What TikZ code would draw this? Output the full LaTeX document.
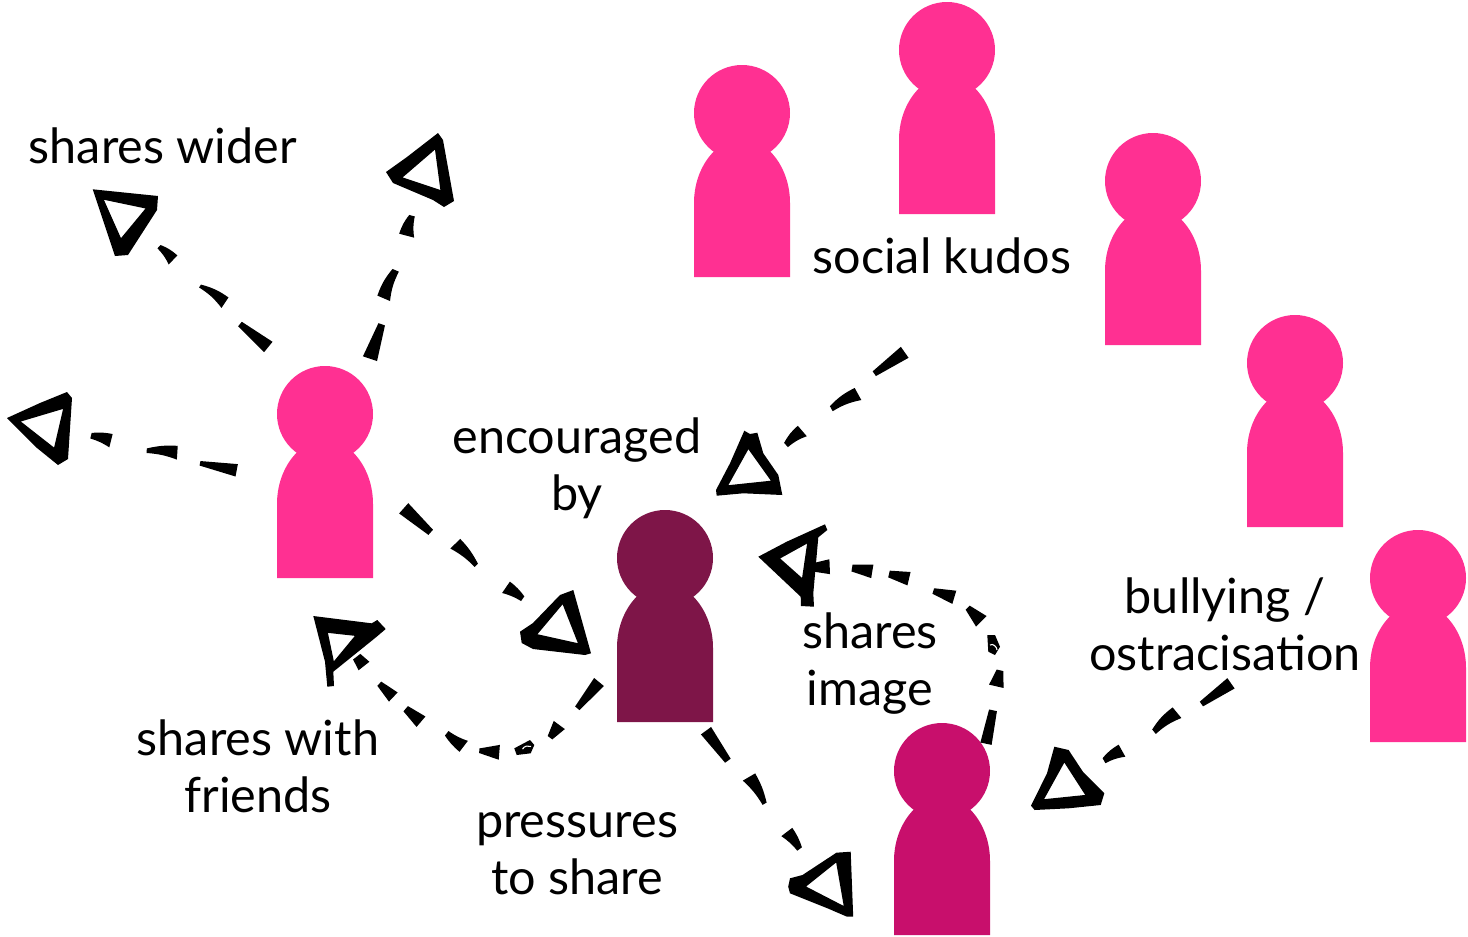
\documentclass[tikz,border=0pt]{standalone}
\usepackage{fontspec}
\setmainfont{Lato}
\usetikzlibrary{calc}
\definecolor{pinkp}{HTML}{FF3092}
\definecolor{darkp}{HTML}{7E1548}
\definecolor{midp}{HTML}{C80F6C}
\tikzset{
  x=0.75pt,y=-0.75pt,
  headshape/.style={circle,inner sep=0pt,outer sep=0pt,minimum size=72pt},
  lbl/.style={inner sep=0pt,outer sep=0pt,align=center,anchor=base,font=\fontsize{36.4}{42.75}\selectfont,text=black},
  sketch/.style={fill=black,even odd rule,draw=none}
}
% person: name, head x, head y, colour
\newcommand\person[4]{%
  \node[headshape,fill=#4] (#1) at (#2,#3) {};
  \fill[#4] ($(#1)+(-48,164)$) -- ($(#1)+(-48,90)$)
    .. controls ($(#1)+(-48,55)$) and ($(#1)+(-26,26)$) .. ($(#1)+(0,26)$)
    .. controls ($(#1)+(26,26)$) and ($(#1)+(48,55)$) .. ($(#1)+(48,90)$)
    -- ($(#1)+(48,164)$) -- cycle;
}
% tapered dash: from, to, width at from, width at to, bend
\newcommand\dashw[5]{%
  \coordinate (dA) at (#1);
  \coordinate (dB) at (#2);
  \fill[black] ($(dA)!#3*0.43pt!90:(dB)$) to[bend left=#5] ($(dB)!#4*0.43pt!-90:(dA)$)
    -- ($(dB)!#4*0.43pt!90:(dA)$) to[bend right=#5] ($(dA)!#3*0.43pt!-90:(dB)$) -- cycle;
}
% sketched arrow head: outer outline, then three corners of the opening
\newcommand\headtri[4]{%
  \coordinate (ia) at (#2);
  \coordinate (ib) at (#3);
  \coordinate (ic) at (#4);
  \coordinate (ig) at (barycentric cs:ia=1,ib=1,ic=1);
  \fill[sketch] #1 ($(ia)!0.1!(ig)$) -- ($(ib)!0.1!(ig)$) -- ($(ic)!0.1!(ig)$) -- cycle;
}
\begin{document}
\begin{tikzpicture}
\useasboundingbox (0,0) rectangle (1468,936);
% people
\person{fanA}{742}{113}{pinkp}
\person{fanB}{947}{50}{pinkp}
\person{fanC}{1153}{181}{pinkp}
\person{fanD}{1295}{363}{pinkp}
\person{fanE}{1418}{578}{pinkp}
\person{friend}{325}{414}{pinkp}
\person{sender}{665}{558}{darkp}
\person{subject}{942}{771}{midp}
% labels
\node[lbl] (lwider) at (163,163) {shares wider};
\node[lbl] (lkudos) at (942,273) {social kudos};
\node[lbl] (lenc) at (577,510) {encouraged\\by};
\node[lbl] (limg) at (870,705) {shares\\image};
\node[lbl] (lbul) at (1225,670) {bullying /\\ostracisation};
\node[lbl] (lfri) at (258,812) {shares with\\friends};
\node[lbl] (lpre) at (577,894) {pressures\\to share};
% arrow heads
\headtri{(92.7,189.3) -- (158,196) -- (157,210) -- (128,255) -- (115,256) -- cycle}{101.7,198}{148,207.7}{120.7,240.7}
\headtri{(438,133) -- (443,140) -- (454,201) -- (444,207) -- (433,200) -- (393,183) -- (386,172) -- (407,157) -- cycle}{436,147}{442,192}{400,178}
\headtri{(67,392) -- (72,398) -- (68,459) -- (58,465) -- (37,448) -- (7,418) -- (40,403) -- cycle}{65,407}{55,450}{18,421}
\headtri{(573.3,590) -- (591,653.3) -- (585,655) -- (533,649) -- (521.7,643) -- (520,631.7) -- (533,623) -- (560,595) -- cycle}{563,601.7}{580,645}{535,635}
\headtri{(313.3,616) -- (371.7,623.3) -- (377.3,620) -- (385.7,629) -- (376.7,636.7) -- (333.3,671.7) -- (334,686) -- (327.3,686.7) -- (325,661.7) -- cycle}{326.7,631.7}{356.7,635}{333.3,663.3}
\headtri{(744.3,430.7) -- (750,434) -- (757.3,432.7) -- (763.3,453.3) -- (778.3,475) -- (782.3,495) -- (743.3,493.3) -- (716.7,495.7) -- (716,490) -- (730,463.3) -- cycle}{748.3,446.7}{773.3,481.7}{726,486.7}
\headtri{(825,524.3) -- (827.3,530) -- (818.3,537.3) -- (813.3,593.3) -- (814,606.7) -- (801,606) -- (800.7,596.7) -- (758.3,556.7) -- (786.7,541.7) -- cycle}{808.3,541.7}{802.7,580}{778.3,558.3}
\headtri{(850.7,851.7) -- (853.2,916.7) -- (847,916.7) -- (827.5,908.3) -- (790,893.3) -- (788.2,886.7) -- (790,878.3) -- (802.5,875) -- (836.4,852.7) -- cycle}{837,860}{845.4,908.3}{803.6,886.7}
\headtri{(1054.3,746.7) -- (1068.6,750) -- (1082.9,771.7) -- (1104.3,793.3) -- (1100.7,805) -- (1068.6,808.3) -- (1034.6,810) -- (1031,805.7) -- (1047,773.3) -- cycle}{1064.3,760}{1087.5,796}{1041.8,800.7}
% friend -> shares wider
\dashw{268.3,347}{240,324}{11.7}{5}{0}
\dashw{225,302.7}{200,286}{11}{3}{-10}
\dashw{173,260}{159,246.7}{11}{4}{-10}
% friend -> upper right
\dashw{370,358.7}{381.7,324.3}{13}{6}{0}
\dashw{383.7,298.3}{395.7,270.3}{12}{6}{10}
\dashw{406.7,235.7}{412,215.7}{13.5}{5}{10}
% friend -> left
\dashw{236.7,470.3}{200,463.3}{11}{4}{0}
\dashw{177.3,452.7}{146.7,450.7}{12}{4}{-8}
\dashw{111,440.7}{91,435.7}{12}{5}{-8}
% friend -> sender
\dashw{403.7,508.3}{430.7,532.3}{12}{6}{0}
\dashw{455.3,543.7}{476.3,565.3}{12}{4}{8}
\dashw{506,587.3}{522.7,598.7}{12}{5}{8}
% sender -> friend (shares with friends)
\dashw{599,682}{577.3,708.3}{11}{5}{0}
\dashw{559.3,725}{550,737.7}{12}{5}{0}
\fill[black] (514.3,748.3) -- (530,740) -- (534.3,745) -- (530.7,753.3) -- (516.7,755) -- cycle;
\draw[white,line width=0.8pt] (522.5,749) .. controls (525,745.5) and (528,745.5) .. (531,746.5);
\dashw{499.3,752.3}{479.3,750.7}{13}{4}{0}
\dashw{463.7,746.3}{446.7,733.3}{12}{5}{8}
\dashw{421,721.7}{405.7,708.7}{12}{6}{0}
\dashw{393.3,697}{379.3,683.7}{11}{5}{0}
\dashw{364,666}{356.7,656.7}{12}{8}{0}
% kudos -> sender
\dashw{904.7,352.3}{874.3,373.7}{11.7}{5}{0}
\dashw{858,394}{831.3,408.7}{12}{5}{-10}
\dashw{802.3,431}{786,445}{12}{5}{-10}
% subject -> sender (shares image)
\dashw{986,743.7}{993,710.3}{10}{7}{0}
\dashw{996.3,686.3}{1000,670.3}{13}{6}{0}
\fill[black] (987.3,635) -- (995,635) -- (1000,646.7) -- (995,655) -- (988.3,651.7) -- cycle;
\draw[white,line width=0.8pt] (990,645) .. controls (993,643) and (997,647) .. (997,650);
\dashw{981.3,621.3}{967.7,607.7}{13}{5}{0}
\dashw{954.3,597.3}{933.3,591}{12}{5}{0}
\dashw{909,578.7}{889,574}{12}{6}{0}
\dashw{872.3,571.3}{852,568}{12}{6}{0}
\dashw{829.7,566.7}{815,567.3}{13}{8}{0}
% sender -> subject
\dashw{706,730.7}{727.9,760.7}{11}{6}{0}
\dashw{749,777}{764.6,803.7}{12.5}{4}{8}
\dashw{786.8,832}{799.6,849}{12}{5}{8}
% bullying -> subject
\dashw{1231,683.3}{1201.4,704}{11}{5}{0}
\dashw{1177,712.7}{1154,731.7}{12}{5}{-10}
\dashw{1122,750.7}{1104,760.7}{12}{5}{-10}
\end{tikzpicture}
\end{document}
